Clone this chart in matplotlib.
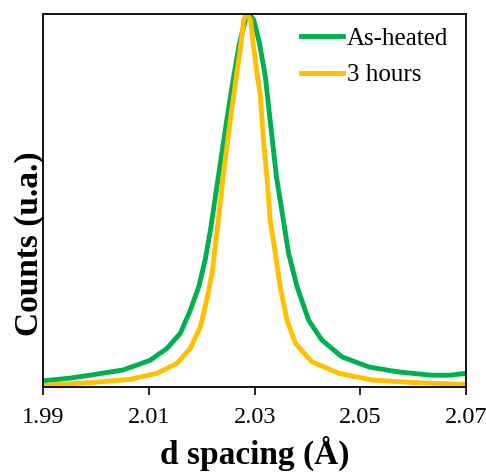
import matplotlib
matplotlib.use("Agg")
import matplotlib.pyplot as plt

# d spacing (A) and normalised counts
d_heated = [1.9900, 1.9950, 1.9988, 2.0051, 2.0102, 2.0134, 2.0159, 2.0178, 2.0194,
            2.0206, 2.0216, 2.0231, 2.0247, 2.0260, 2.0271, 2.0282, 2.0288, 2.0298,
            2.0309, 2.0320, 2.0329, 2.0341, 2.0355, 2.0364, 2.0380, 2.0402, 2.0427,
            2.0465, 2.0516, 2.0570, 2.0633, 2.0671, 2.0700]
c_heated = [0.017, 0.024, 0.032, 0.046, 0.072, 0.104, 0.144, 0.206, 0.269,
            0.340, 0.420, 0.563, 0.715, 0.831, 0.920, 0.983, 1.000, 0.983,
            0.920, 0.831, 0.715, 0.563, 0.439, 0.358, 0.269, 0.179, 0.126,
            0.081, 0.054, 0.041, 0.032, 0.032, 0.037]

d_3h = [1.9900, 1.9988, 2.0064, 2.0115, 2.0153, 2.0178, 2.0197, 2.0209, 2.0219,
        2.0225, 2.0229, 2.0240, 2.0252, 2.0265, 2.0274, 2.0279, 2.0284, 2.0292,
        2.0297, 2.0305, 2.0310, 2.0317, 2.0323, 2.0329, 2.0339, 2.0348, 2.0361,
        2.0377, 2.0408, 2.0459, 2.0522, 2.0604, 2.0700]
c_3h = [0.005, 0.012, 0.021, 0.037, 0.064, 0.104, 0.161, 0.233, 0.304,
        0.376, 0.420, 0.563, 0.697, 0.831, 0.920, 0.983, 1.000, 0.983,
        0.920, 0.831, 0.786, 0.653, 0.563, 0.447, 0.358, 0.269, 0.179,
        0.117, 0.068, 0.037, 0.019, 0.012, 0.007]

xticks = [1.99, 2.01, 2.03, 2.05, 2.07]

plt.rcParams['font.family'] = ['Liberation Serif', 'DejaVu Serif']

fig = plt.figure(figsize=(4.86, 4.75), dpi=100)
ax = fig.add_axes([0.0895, 0.185, 0.8695, 0.7865])

ax.plot(d_heated, c_heated, color='#00B050', linewidth=3.5, label='As-heated',
        solid_joinstyle='round')
ax.plot(d_3h, c_3h, color='#FFC000', linewidth=3.5, label='3 hours',
        solid_joinstyle='round')

ax.set_xlim(1.99, 2.07)
ax.set_ylim(0, 1.0)
ax.set_xticks(xticks)
ax.set_xticklabels(['%.2f' % t for t in xticks], fontsize=17.5)
ax.set_yticks([])
ax.tick_params(axis='x', direction='out', length=6, width=1.2, pad=8)
for s in ax.spines.values():
    s.set_linewidth(1.3)

ax.set_xlabel(u'd spacing (\u00c5)', fontsize=24, fontweight='bold', labelpad=6)
ax.set_ylabel('Counts (u.a.)', fontsize=24, fontweight='bold')
ax.yaxis.set_label_coords(0.004, 0.384)

ax.legend(loc='upper right', bbox_to_anchor=(1.0, 1.009), frameon=False,
          fontsize=18, handlelength=1.7, handletextpad=0.15,
          labelspacing=0.55, borderaxespad=0.3)

fig.savefig('out.png', dpi=100)
